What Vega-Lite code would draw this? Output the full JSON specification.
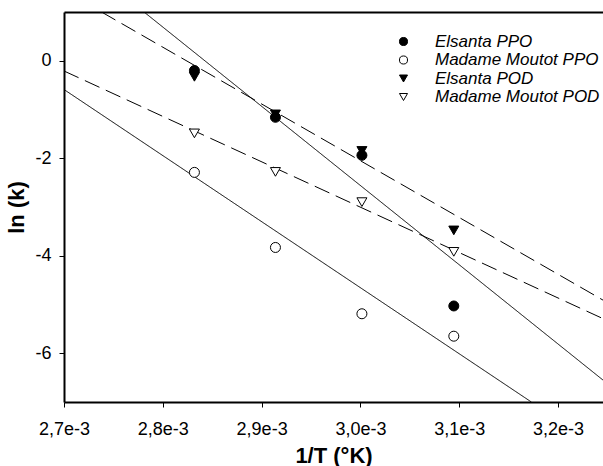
{
  "$schema": "https://vega.github.io/schema/vega-lite/v6.json",
  "width": 539,
  "height": 390,
  "autosize": "none",
  "padding": {"left": 64, "top": 12, "right": 0, "bottom": 64},
  "background": "white",
  "config": {
    "view": {"stroke": null},
    "font": "Liberation Sans",
    "axis": {
      "domainColor": "black",
      "domainWidth": 2,
      "tickColor": "black",
      "tickWidth": 1,
      "tickSize": 5,
      "labelFont": "Liberation Sans",
      "labelFontSize": 18,
      "labelColor": "black",
      "labelFlush": false,
      "titleFont": "Liberation Sans",
      "titleFontSize": 22,
      "titleFontWeight": "bold",
      "titleColor": "black",
      "grid": false
    },
    "legend": {
      "orient": "none",
      "legendX": 331,
      "legendY": 21,
      "labelFont": "Liberation Sans",
      "labelFontSize": 17,
      "labelFontStyle": "italic",
      "labelColor": "black",
      "labelLimit": 400,
      "labelOffset": 23,
      "symbolSize": 65,
      "symbolStrokeWidth": 1,
      "rowPadding": 0.5
    }
  },
  "datasets": {
    "pts": [
      {"x": 0.002832, "y": -0.2, "series": "Elsanta PPO"},
      {"x": 0.002914, "y": -1.16, "series": "Elsanta PPO"},
      {"x": 0.0030015, "y": -1.94, "series": "Elsanta PPO"},
      {"x": 0.0030945, "y": -5.03, "series": "Elsanta PPO"},
      {"x": 0.002832, "y": -2.29, "series": "Madame Moutot PPO"},
      {"x": 0.002914, "y": -3.83, "series": "Madame Moutot PPO"},
      {"x": 0.0030015, "y": -5.19, "series": "Madame Moutot PPO"},
      {"x": 0.0030945, "y": -5.65, "series": "Madame Moutot PPO"},
      {"x": 0.002832, "y": -0.33, "series": "Elsanta POD"},
      {"x": 0.002914, "y": -1.1, "series": "Elsanta POD"},
      {"x": 0.0030015, "y": -1.85, "series": "Elsanta POD"},
      {"x": 0.0030945, "y": -3.48, "series": "Elsanta POD"},
      {"x": 0.002832, "y": -1.49, "series": "Madame Moutot POD"},
      {"x": 0.002914, "y": -2.28, "series": "Madame Moutot POD"},
      {"x": 0.0030015, "y": -2.9, "series": "Madame Moutot POD"},
      {"x": 0.0030945, "y": -3.92, "series": "Madame Moutot POD"}
    ],
    "lines": [
      {"x": 0.002781, "y": 1, "line": "Elsanta PPO", "style": "solid"},
      {"x": 0.0032455, "y": -6.55, "line": "Elsanta PPO", "style": "solid"},
      {"x": 0.0027, "y": -0.59, "line": "Madame Moutot PPO", "style": "solid"},
      {"x": 0.003173, "y": -7, "line": "Madame Moutot PPO", "style": "solid"},
      {"x": 0.002738, "y": 1, "line": "Elsanta POD", "style": "dashed"},
      {"x": 0.0032455, "y": -4.91, "line": "Elsanta POD", "style": "dashed"},
      {"x": 0.0027, "y": -0.21, "line": "Madame Moutot POD", "style": "dashed"},
      {"x": 0.0032455, "y": -5.29, "line": "Madame Moutot POD", "style": "dashed"}
    ]
  },
  "layer": [
    {
      "data": {"name": "lines"},
      "mark": {"type": "line", "clip": true, "color": "black", "strokeWidth": 1},
      "encoding": {
        "x": {
          "field": "x", "type": "quantitative",
          "scale": {"domain": [0.0027, 0.0032455], "nice": false, "zero": false},
          "axis": {"orient": "top", "labels": false, "ticks": false, "title": null, "domainWidth": 2}
        },
        "y": {
          "field": "y", "type": "quantitative",
          "scale": {"domain": [-7, 1], "nice": false, "zero": false},
          "axis": {"values": [0, -2, -4, -6], "labelExpr": "toString(datum.value)", "title": "ln (k)", "labelPadding": 8, "titlePadding": 6}
        },
        "detail": {"field": "line", "type": "nominal"},
        "strokeDash": {
          "field": "style", "type": "nominal",
          "scale": {"domain": ["solid", "dashed"], "range": [[1, 0], [16, 7]]},
          "legend": null
        }
      }
    },
    {
      "data": {"name": "pts"},
      "mark": {"type": "point", "filled": true, "strokeWidth": 1, "size": 100, "opacity": 1},
      "encoding": {
        "x": {
          "field": "x", "type": "quantitative",
          "scale": {"domain": [0.0027, 0.0032455], "nice": false, "zero": false},
          "axis": {
            "orient": "bottom",
            "values": [0.0027, 0.0028, 0.0029, 0.003, 0.0031, 0.0032],
            "labelExpr": "replace(format(datum.value, '.1e'), '.', ',')",
            "title": "1/T (°K)",
            "labelPadding": 13,
            "titlePadding": 7
          }
        },
        "y": {
          "field": "y", "type": "quantitative",
          "scale": {"domain": [-7, 1], "nice": false, "zero": false},
          "axis": {"values": [0, -2, -4, -6], "labelExpr": "toString(datum.value)", "title": "ln (k)", "labelPadding": 8, "titlePadding": 6}
        },
        "shape": {
          "field": "series", "type": "nominal",
          "scale": {"domain": ["Elsanta PPO", "Madame Moutot PPO", "Elsanta POD", "Madame Moutot POD"], "range": ["circle", "circle", "triangle-down", "triangle-down"]},
          "legend": {"title": null}
        },
        "fill": {
          "field": "series", "type": "nominal",
          "scale": {"domain": ["Elsanta PPO", "Madame Moutot PPO", "Elsanta POD", "Madame Moutot POD"], "range": ["black", "white", "black", "white"]},
          "legend": {"title": null}
        },
        "stroke": {
          "field": "series", "type": "nominal",
          "scale": {"domain": ["Elsanta PPO", "Madame Moutot PPO", "Elsanta POD", "Madame Moutot POD"], "range": ["black", "black", "black", "black"]},
          "legend": {"title": null}
        }
      }
    }
  ],
  "resolve": {"axis": {"x": "independent"}}
}
